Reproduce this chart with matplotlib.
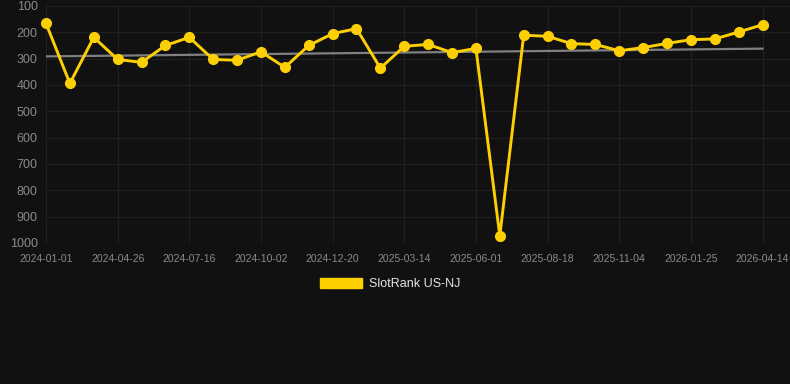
import numpy as np
import matplotlib
matplotlib.use("Agg")
import matplotlib.pyplot as plt
from matplotlib.patches import Patch

plt.rcParams["font.family"] = ["Liberation Sans", "DejaVu Sans"]

# ── data ───────────────────────────────────────────────────────────────────
ranks = [166, 394, 219, 303, 314, 250, 219, 303, 306, 274, 333, 250, 205, 186, 336,
         253, 246, 277, 261, 973, 211, 215, 243, 246, 270, 258, 242, 228, 225, 199, 171]
tick_labels = ["2024-01-01", "2024-04-26", "2024-07-16", "2024-10-02", "2024-12-20",
               "2025-03-14", "2025-06-01", "2025-08-18", "2025-11-04", "2026-01-25",
               "2026-04-14"]
series_name = "SlotRank US-NJ"

BG = "#111111"
YELLOW = "#FFD000"

x = np.arange(len(ranks))
coef = np.polyfit(x, ranks, 1)
trend = np.polyval(coef, x)

fig = plt.figure(figsize=(7.9, 3.84), dpi=100, facecolor=BG)
ax = fig.add_axes([46 / 790, 1 - 243 / 384, 1 - 46 / 790, 237 / 384], facecolor=BG)

ax.plot(x, trend, color="#808080", lw=1.6, zorder=2)
ax.plot(x, ranks, color=YELLOW, lw=2.1, marker="o", ms=7, zorder=3, clip_on=False)

ax.set_xlim(0, len(ranks) - 1 + 1.15)
ax.set_ylim(1000, 100)
ax.set_yticks(range(100, 1001, 100))
ax.set_xticks(x[::3])
ax.set_xticklabels(tick_labels)

ax.grid(True, color="#202020", lw=0.8)
ax.set_axisbelow(True)
for s in ax.spines.values():
    s.set_visible(False)
ax.tick_params(axis="y", length=0, colors="#8a8a8a", labelsize=9, pad=6)
ax.tick_params(axis="x", length=0, colors="#8a8a8a", labelsize=7.5, pad=8)

fig.legend(handles=[Patch(facecolor=YELLOW, edgecolor=YELLOW)], labels=[series_name],
           loc="center", bbox_to_anchor=(390 / 790, 1 - 284 / 384), frameon=False,
           handlelength=3.4, handleheight=0.9, handletextpad=0.5,
           labelcolor="#e6e6e6", fontsize=9)

plt.savefig("out.png", facecolor=BG)
